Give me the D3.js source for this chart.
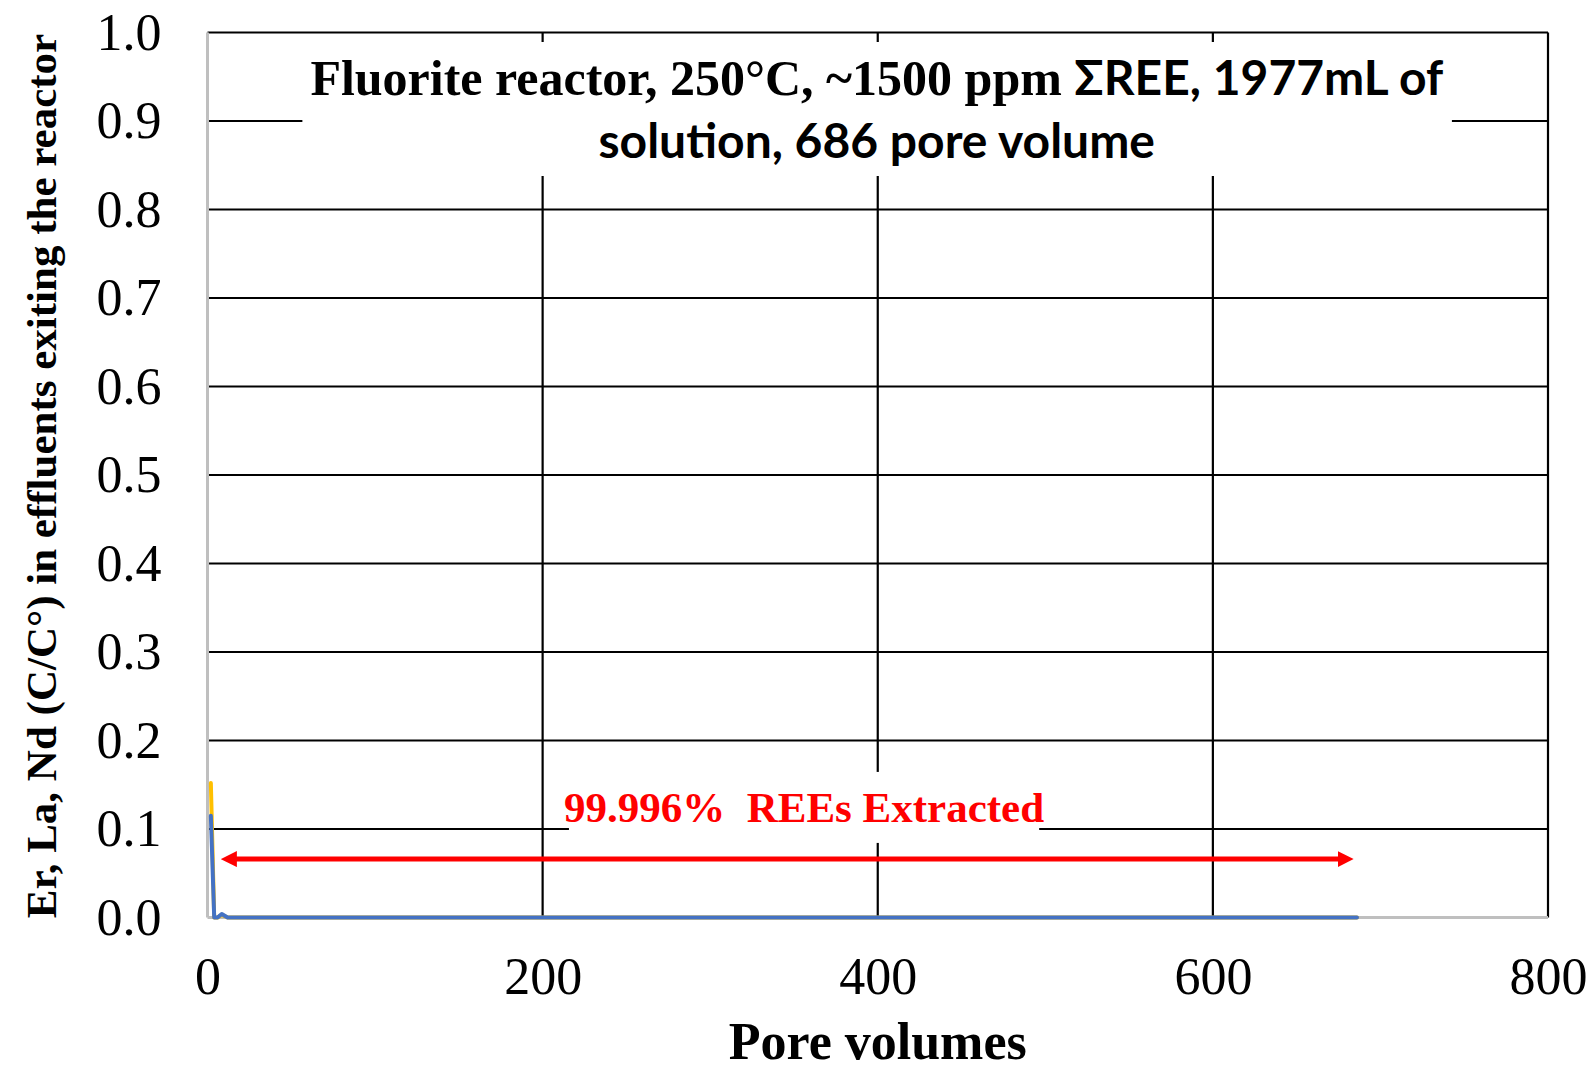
<!DOCTYPE html>
<html>
<head>
<meta charset="utf-8">
<script src="https://cdnjs.cloudflare.com/ajax/libs/d3/7.8.5/d3.min.js"></script>
<style>
  body { margin: 0; background: #fff; }
</style>
</head>
<body>
<div id="chart"></div>
<script>
// Data
var poreVolumes = [2, 4, 6, 8.5, 12, 20, 40, 80, 150, 250, 350, 450, 550, 650, 686];
var erValues    = [0.115, 0, 0, 0.004, 0, 0, 0, 0, 0, 0, 0, 0, 0, 0, 0];
var laValues    = [0.152, 0, 0, 0.003, 0, 0, 0, 0, 0, 0, 0, 0, 0, 0, 0];
var xTicks = [0, 200, 400, 600, 800];
var yTicks = [0, 0.1, 0.2, 0.3, 0.4, 0.5, 0.6, 0.7, 0.8, 0.9, 1.0];
var arrowFrom = 8, arrowTo = 684, arrowLevel = 0.066;

var width = 1595, height = 1074;
var margin = { top: 32.5, right: 47, bottom: 156.5, left: 207.5 };
var plotW = width - margin.left - margin.right;
var plotH = height - margin.top - margin.bottom;

var svg = d3.select("#chart")
    .append("svg")
    .attr("width", width)
    .attr("height", height)
    .style("display", "block");

var g = svg.append("g")
    .attr("transform", "translate(" + margin.left + "," + margin.top + ")");

var xScale = d3.scaleLinear().domain([0, 800]).range([0, plotW]);
var yScale = d3.scaleLinear().domain([0, 1]).range([plotH, 0]);

// horizontal gridlines
g.append("g").selectAll("line")
    .data(yTicks.filter(function (d) { return d > 0; }))
    .enter().append("line")
    .attr("x1", 0).attr("x2", plotW)
    .attr("y1", function (d) { return yScale(d); })
    .attr("y2", function (d) { return yScale(d); })
    .attr("stroke", "#000").attr("stroke-width", 2.2);

// vertical gridlines
g.append("g").selectAll("line")
    .data(xTicks.filter(function (d) { return d > 0; }))
    .enter().append("line")
    .attr("x1", function (d) { return xScale(d); })
    .attr("x2", function (d) { return xScale(d); })
    .attr("y1", 0).attr("y2", plotH)
    .attr("stroke", "#000").attr("stroke-width", 2.2);

// axes (labels only), grey axis lines drawn separately
var yAxis = g.append("g")
    .call(d3.axisLeft(yScale).tickValues(yTicks).tickFormat(d3.format(".1f")).tickSize(0).tickPadding(46));
var xAxis = g.append("g")
    .attr("transform", "translate(0," + plotH + ")")
    .call(d3.axisBottom(xScale).tickValues(xTicks).tickFormat(d3.format("d")).tickSize(0).tickPadding(40));
[yAxis, xAxis].forEach(function (a) {
    a.select(".domain").remove();
    a.selectAll("text")
        .style("font-family", "'Liberation Serif', 'Times New Roman', serif")
        .style("font-size", "52px")
        .attr("fill", "#000");
});

g.append("line")
    .attr("x1", 0).attr("x2", 0).attr("y1", 0).attr("y2", plotH)
    .attr("stroke", "#bfbfbf").attr("stroke-width", 3);
g.append("line")
    .attr("x1", 0).attr("x2", plotW).attr("y1", plotH).attr("y2", plotH)
    .attr("stroke", "#bfbfbf").attr("stroke-width", 3);

// series
var rows = poreVolumes.map(function (pv, i) { return { pv: pv, er: erValues[i], la: laValues[i] }; });
var lineLa = d3.line().x(function (d) { return xScale(d.pv); }).y(function (d) { return yScale(d.la); });
var lineEr = d3.line().x(function (d) { return xScale(d.pv); }).y(function (d) { return yScale(d.er); });

g.append("path").datum(rows).attr("d", lineLa)
    .attr("fill", "none").attr("stroke", "#ffc000").attr("stroke-width", 4)
    .attr("stroke-linejoin", "round").attr("stroke-linecap", "round");
g.append("path").datum(rows).attr("d", lineEr)
    .attr("fill", "none").attr("stroke", "#4472c4").attr("stroke-width", 4)
    .attr("stroke-linejoin", "round").attr("stroke-linecap", "round");

// title box
var titleG = svg.append("g");
var titleBg = titleG.append("rect").attr("fill", "#fff");
var title = titleG.append("text")
    .attr("text-anchor", "middle")
    .style("font-weight", "bold")
    .style("white-space", "pre");
var cx = margin.left + plotW / 2 - 1;
var l1 = title.append("tspan").attr("x", cx).attr("y", 95);
l1.append("tspan")
    .style("font-family", "'Liberation Serif', 'Times New Roman', serif")
    .style("font-size", "50px")
    .text("Fluorite reactor, 250°C, ~1500 ppm ");
l1.append("tspan")
    .style("font-family", "Lato, 'Open Sans', sans-serif")
    .style("font-size", "48px")
    .text("ΣREE, 1977mL of");
title.append("tspan").attr("x", cx).attr("y", 158)
    .style("font-family", "Lato, 'Open Sans', sans-serif")
    .style("font-size", "48px")
    .text("solution, 686 pore volume");
var tb = title.node().getBBox();
titleBg.attr("x", tb.x - 8).attr("y", 42).attr("width", tb.width + 16).attr("height", 134);

// annotation: arrow + text
var defs = svg.append("defs");
function marker(id, path) {
    defs.append("marker")
        .attr("id", id)
        .attr("markerUnits", "userSpaceOnUse")
        .attr("viewBox", "0 0 16 16")
        .attr("refX", 8).attr("refY", 8)
        .attr("markerWidth", 16).attr("markerHeight", 16)
        .attr("orient", "auto")
        .append("path").attr("d", path).attr("fill", "#ff0000");
}
marker("arrowEnd", "M0,0 L16,8 L0,16 Z");
marker("arrowStart", "M16,0 L0,8 L16,16 Z");

var annG = g.append("g");
var annBg = annG.append("rect").attr("fill", "#fff");
var annText = annG.append("text")
    .attr("x", xScale(356))
    .attr("y", yScale(0.108))
    .attr("text-anchor", "middle")
    .style("white-space", "pre")
    .style("font-family", "'Liberation Serif', 'Times New Roman', serif")
    .style("font-weight", "bold")
    .style("font-size", "43px")
    .attr("fill", "#ff0000")
    .text("99.996%  REEs Extracted");
var ab = annText.node().getBBox();
annBg.attr("x", ab.x + 5).attr("y", ab.y - 12).attr("width", ab.width - 10).attr("height", ab.height + 24);

annG.append("line")
    .attr("x1", xScale(arrowFrom) + 8).attr("x2", xScale(arrowTo) - 8)
    .attr("y1", yScale(arrowLevel)).attr("y2", yScale(arrowLevel))
    .attr("stroke", "#ff0000").attr("stroke-width", 5)
    .attr("marker-start", "url(#arrowStart)")
    .attr("marker-end", "url(#arrowEnd)");

// axis titles
svg.append("text")
    .attr("transform", "translate(56," + (margin.top + plotH / 2 + 1) + ") rotate(-90)")
    .attr("text-anchor", "middle")
    .style("font-family", "'Liberation Serif', 'Times New Roman', serif")
    .style("font-weight", "bold")
    .style("font-size", "43px")
    .text("Er, La, Nd (C/C°) in effluents exiting the reactor");

svg.append("text")
    .attr("x", margin.left + plotW / 2)
    .attr("y", 1059)
    .attr("text-anchor", "middle")
    .style("font-family", "'Liberation Serif', 'Times New Roman', serif")
    .style("font-weight", "bold")
    .style("font-size", "52px")
    .text("Pore volumes");
</script>
</body>
</html>
